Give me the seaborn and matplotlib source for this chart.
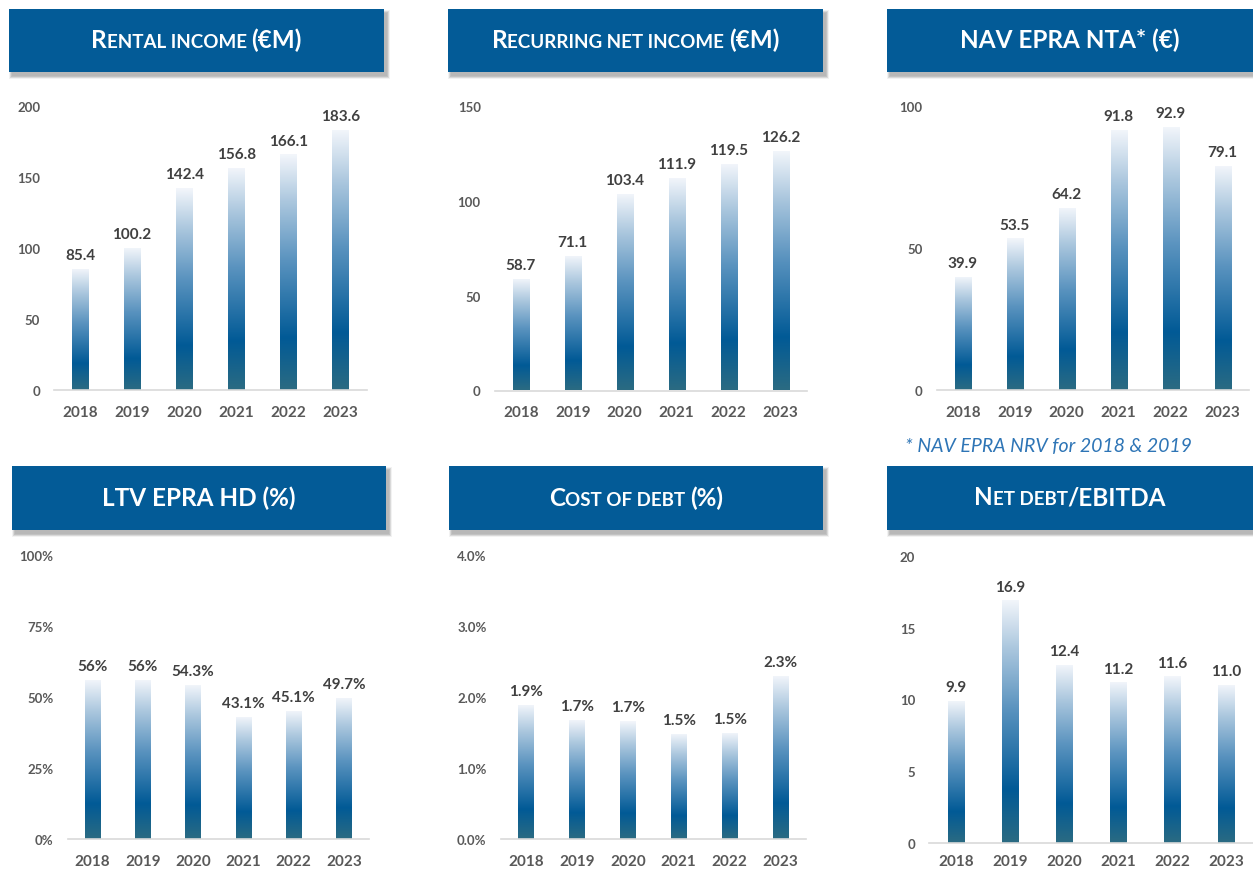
import numpy as np
import pandas as pd
import matplotlib
matplotlib.use("Agg")
import matplotlib.pyplot as plt
import seaborn as sns
from matplotlib.colors import LinearSegmentedColormap
from matplotlib.patches import Rectangle
from matplotlib.offsetbox import TextArea, HPacker, AnnotationBbox

# ---------------- data ----------------
years = ["2018", "2019", "2020", "2021", "2022", "2023"]
rental_income = [85.4, 100.2, 142.4, 156.8, 166.1, 183.6]
recurring_net_income = [58.7, 71.1, 103.4, 111.9, 119.5, 126.2]
nav_epra_nta = [39.9, 53.5, 64.2, 91.8, 92.9, 79.1]
ltv_epra_hd = [56, 56, 54.3, 43.1, 45.1, 49.7]
cost_of_debt = [1.89, 1.68, 1.66, 1.48, 1.50, 2.30]
net_debt_ebitda = [9.9, 16.9, 12.4, 11.2, 11.6, 11.0]

titles = ["Rental income (€M)", "Recurring net income (€M)", "NAV EPRA NTA* (€)",
          "LTV EPRA HD (%)", "Cost of debt (%)", "Net debt/EBITDA"]
yticks_1 = [0, 50, 100, 150, 200]
yticks_2 = [0, 50, 100, 150]
yticks_3 = [0, 50, 100]
yticks_4 = [0, 25, 50, 75, 100]
yticks_5 = [0.0, 1.0, 2.0, 3.0, 4.0]
yticks_6 = [0, 5, 10, 15, 20]
footnote = "* NAV EPRA NRV for 2018 & 2019"

# ---------------- style ----------------
W, H = 1253, 870
sns.set_theme(style="white")
plt.rcParams["font.family"] = ["Lato", "DejaVu Sans"]

BOX = "#035b97"
TICK = "#595959"
VAL = "#404040"
cmap = LinearSegmentedColormap.from_list(
    "bar", [(0.0, "#2b6b82"), (0.22, "#015a96"), (0.55, "#5a93bf"),
            (0.8, "#abc7de"), (1.0, "#f3f6fb")])
grad = np.linspace(0, 1, 256).reshape(-1, 1)

fig = plt.figure(figsize=(W / 100, H / 100), dpi=100)
bg = fig.add_axes([0, 0, 1, 1])
bg.set_xlim(0, W)
bg.set_ylim(H, 0)
bg.axis("off")

# panels: (title, values, yticks, fmt_tick, fmt_val, box[x0,y0,x1,y1], axes[xl, xr, y0, ytop], xpad)
panels = [
    (titles[0], rental_income, yticks_1, "{:g}", "{:.1f}", (9, 10, 384, 73), (54, 366.5, 391, 107.3), 10.5),
    (titles[1], recurring_net_income, yticks_2, "{:g}", "{:.1f}", (448, 10, 823, 73), (494.7, 806.7, 391.5, 106.7), 10.5),
    (titles[2], nav_epra_nta, yticks_3, "{:g}", "{:.1f}", (887, 10, 1262, 73), (936.7, 1248.7, 391, 107.5), 10.5),
    (titles[3], ltv_epra_hd, yticks_4, "{:g}%", "{:g}%", (12, 467, 386, 531), (67.5, 369, 840, 556), 10.5),
    (titles[4], cost_of_debt, yticks_5, "{:.1f}%", "{:.1f}%", (449, 467, 823, 531), (500.5, 806, 840, 556), 10.5),
    (titles[5], net_debt_ebitda, yticks_6, "{:g}", "{:.1f}", (887, 467, 1262, 531), (929, 1253, 844.3, 556.7), 7.5),
]


def smallcaps(text, big=17.5, small=13.5):
    runs = []
    for ch in text:
        kind = "s" if ch.islower() else "b"
        if ch == " " and runs:
            kind = runs[-1][0]
        if runs and runs[-1][0] == kind:
            runs[-1][1] += ch.upper()
        else:
            runs.append([kind, ch.upper()])
    kids = [TextArea(s, textprops=dict(fontsize=big if k == "b" else small,
                                       fontweight="bold", color="white"))
            for k, s in runs]
    return HPacker(children=kids, align="baseline", pad=0, sep=0)


for title, vals, yt, ftick, fval, box, axp, xpad in panels:
    bx0, by0, bx1, by1 = box
    # soft shadow
    for k in range(6):
        bg.add_patch(Rectangle((bx0 + 3 - k * 0.6, by0 + 4 - k * 0.6), bx1 - bx0 + k * 1.2, by1 - by0 + k * 1.2,
                               facecolor="#000000", alpha=0.05, edgecolor="none", zorder=1))
    bg.add_patch(Rectangle((bx0, by0), bx1 - bx0, by1 - by0, facecolor=BOX, edgecolor="none", zorder=2))
    ab = AnnotationBbox(smallcaps(title), ((bx0 + min(bx1, W)) / 2, (by0 + by1) / 2 - 1),
                        xycoords="data", frameon=False, box_alignment=(0.5, 0.5), pad=0, zorder=3)
    bg.add_artist(ab)

    xl, xr, y0, ytop = axp
    ax = fig.add_axes([xl / W, 1 - y0 / H, (xr - xl) / W, (y0 - ytop) / H])
    df = pd.DataFrame({"year": years, "value": vals})
    sns.barplot(data=df, x="year", y="value", ax=ax, width=0.31, color=BOX,
                saturation=1, errorbar=None, linewidth=0, edgecolor="none")
    for p in list(ax.patches):
        x0, w, h = p.get_x(), p.get_width(), p.get_height()
        im = ax.imshow(grad, extent=(x0, x0 + w, 0, h), origin="lower", aspect="auto",
                       cmap=cmap, zorder=2)
        im.set_clip_path(p)
        p.set_facecolor("none")
    for i, v in enumerate(vals):
        ax.annotate(fval.format(v), xy=(i, v), xytext=(0, 7), textcoords="offset points",
                    ha="center", va="baseline", fontsize=11, fontweight="bold", color=VAL)
    ax.set_xlim(-0.5, 5.5)
    ax.set_ylim(0, yt[-1])
    ax.set_yticks(yt)
    ax.set_yticklabels([ftick.format(t) for t in yt])
    ax.set_xlabel("")
    ax.set_ylabel("")
    ax.set_facecolor("none")
    ax.grid(False)
    sns.despine(ax=ax, left=True)
    ax.spines["bottom"].set_color("#d9d9d9")
    ax.spines["bottom"].set_linewidth(1.2)
    ax.tick_params(axis="x", length=0, pad=xpad, labelsize=11, labelcolor=TICK)
    ax.tick_params(axis="y", length=0, pad=10, labelsize=9.5, labelcolor=TICK)
    for lab in ax.get_xticklabels() + ax.get_yticklabels():
        lab.set_fontweight("bold")

bg.text(905, 447, footnote, ha="left", va="center", fontsize=14, style="italic",
        color="#2e75b6")

fig.savefig("out.png", dpi=100)
